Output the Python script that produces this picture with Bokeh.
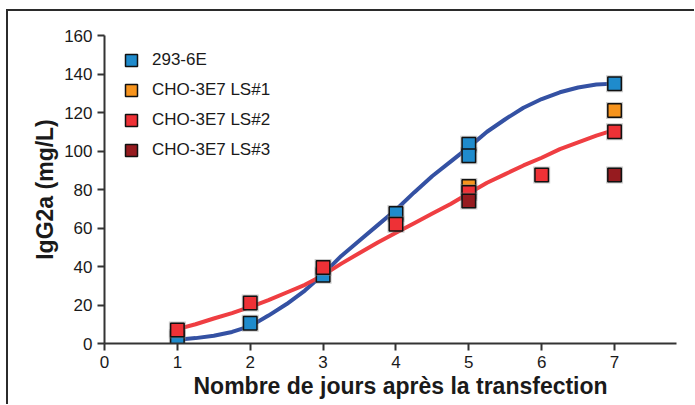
from bokeh.plotting import figure
from bokeh.models import Range1d, FixedTicker, Legend, LegendItem, Title
from bokeh.embed import file_html
from bokeh.resources import INLINE

# ---- data ----
days_293 = [1, 2, 3, 4, 5, 5, 7]
igg_293 = [3, 10.5, 35.5, 67.5, 103.5, 97.5, 135]
days_ls1 = [5, 7]
igg_ls1 = [81.5, 121]
days_ls2 = [1, 2, 3, 4, 5, 6, 7]
igg_ls2 = [7, 21, 39.5, 62, 78.5, 87.5, 110]
days_ls3 = [5, 7]
igg_ls3 = [74, 87.5]

# fitted curves
fit_days = [1, 1.25, 1.5, 1.75, 2, 2.25, 2.5, 2.75, 3, 3.25, 3.5, 3.75, 4,
            4.25, 4.5, 4.75, 5, 5.25, 5.5, 5.75, 6, 6.25, 6.5, 6.75, 7]
fit_293 = [2, 2.8, 4, 6, 9, 14.5, 20.5, 27.5, 36, 45.5, 53.5, 61.5, 69.5,
           78.5, 87, 94.5, 102, 110, 116.5, 122.5, 127, 130.5, 133, 134.5, 135]
fit_ls2 = [7.5, 10, 13, 15.8, 19, 22.5, 26.5, 30.5, 35.5, 41.5, 47, 52.5, 57.5,
           62.5, 67.5, 72.5, 78, 83.5, 88, 92.5, 96.5, 101, 104.5, 108, 111]

x_ticks = [0, 1, 2, 3, 4, 5, 6, 7]
y_ticks = [0, 20, 40, 60, 80, 100, 120, 140, 160]

labels = ["293-6E", "CHO-3E7 LS#1", "CHO-3E7 LS#2", "CHO-3E7 LS#3"]
colors = ["#1f8bcc", "#f7941d", "#ee3136", "#961b1f"]

FONT = "Liberation Sans"
INK = "#1a1a1a"

p = figure(
    frame_width=572, frame_height=308,
    min_border_left=96, min_border_right=18, min_border_top=24, min_border_bottom=61,
    x_range=Range1d(0, 7.85), y_range=Range1d(0, 160),
    output_backend="svg", toolbar_location=None,
)
p.styles = {"margin-left": "6px", "margin-top": "9px",
            "border-left": "2.5px solid #2b2b2b", "border-top": "2.5px solid #2b2b2b"}
p.outline_line_color = None
p.xgrid.visible = False
p.ygrid.visible = False
p.background_fill_color = "white"
p.border_fill_color = "white"

for ax in (p.xaxis[0], p.yaxis[0]):
    ax.axis_line_color = "#333333"
    ax.axis_line_width = 2
    ax.major_tick_line_color = "#333333"
    ax.major_tick_line_width = 2
    ax.major_tick_in = 0
    ax.major_tick_out = 7
    ax.minor_tick_line_color = None
    ax.major_label_text_font = FONT
    ax.major_label_text_font_size = "17px"
    ax.major_label_text_color = INK
    ax.major_label_standoff = 5

p.xaxis.ticker = FixedTicker(ticks=x_ticks)
p.yaxis.ticker = FixedTicker(ticks=y_ticks)

p.yaxis.axis_label = "IgG2a (mg/L)"
p.yaxis.axis_label_text_font = FONT
p.yaxis.axis_label_text_font_size = "23px"
p.yaxis.axis_label_text_font_style = "bold"
p.yaxis.axis_label_text_color = INK
p.yaxis.axis_label_standoff = 3

xt = Title(text="Nombre de jours après la transfection", align="left", offset=89,
           text_font=FONT, text_font_size="23px", text_font_style="bold",
           text_color=INK, standoff=0)
p.add_layout(xt, "below")

# fitted curves
p.line(fit_days, fit_293, line_color="#3451a3", line_width=4)
p.line(fit_days, fit_ls2, line_color="#ef3e42", line_width=4)

items = []
for lab, col, xs, ys in zip(labels, colors,
                            [days_293, days_ls1, days_ls2, days_ls3],
                            [igg_293, igg_ls1, igg_ls2, igg_ls3]):
    halo = p.scatter(xs, ys, marker="square", size=17, fill_color="#808080",
                     fill_alpha=0.4, line_color=None)
    main = p.scatter(xs, ys, marker="square", size=13.5, fill_color=col,
                     line_color="#111111", line_width=1.5)
    items.append(LegendItem(label=lab, renderers=[main]))

legend = Legend(items=items, location=(12, 178), glyph_width=30, glyph_height=30,
                label_height=20, spacing=0, padding=0, margin=0, label_standoff=6,
                border_line_color=None, background_fill_alpha=0,
                label_text_font=FONT, label_text_font_size="17px",
                label_text_color=INK)
p.add_layout(legend)

open("out.html", "w").write(file_html(p, INLINE))
